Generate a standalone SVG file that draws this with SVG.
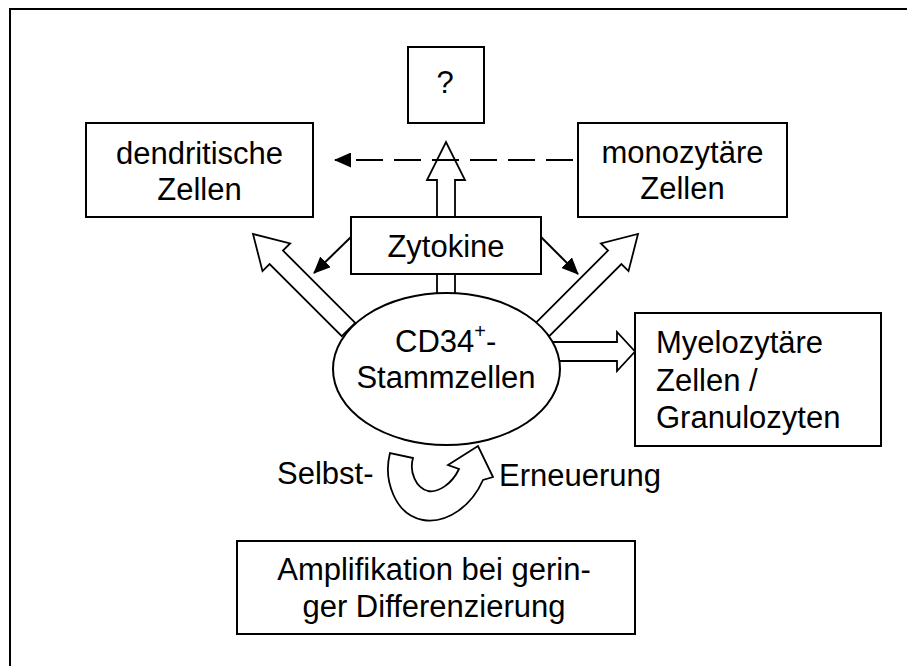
<svg xmlns="http://www.w3.org/2000/svg" width="907" height="666" viewBox="0 0 907 666">
<style>
.box{fill:#fff;stroke:#000;stroke-width:2}
.blk{fill:#fff;stroke:#000;stroke-width:1.8;stroke-linejoin:miter}
.thin{fill:none;stroke:#000;stroke-width:2}
text{font-family:"Liberation Sans",Arial,sans-serif;font-size:31px;fill:#000}
.c{text-anchor:middle}
</style>
<defs>
<marker id="head" markerUnits="userSpaceOnUse" markerWidth="17" markerHeight="15" viewBox="0 0 17 15" refX="16" refY="7.5" orient="auto">
<path d="M0,0 L17,7.5 L0,15 z" fill="#000"/>
</marker>
</defs>
<rect x="10" y="9" width="1000" height="1000" fill="#fff" stroke="#000" stroke-width="2"/>

<g id="connectors">
<polygon class="blk" points="437,300 437,180 427,180 446,142 465,180 455,180 455,300"/>
<polygon class="blk" points="355.2,322.8 283,250.6 290.1,243.5 253,234 262.5,271.1 269.6,264 341.8,336.2"/>
<polygon class="blk" points="535.8,322.8 608,250.6 600.9,243.5 638,234 628.5,271.1 621.4,264 549.2,336.2"/>
<polygon class="blk" points="550,342 617,342 617,332 635,351.5 617,371 617,361 550,361"/>
<path class="blk" d="M390,453 C383,480 395,515 423,520 C448,524 472,505 483,480 L493,477 L478,446 L448,465 L459,469 C452,484 438,493 428,491 C416,488 409,472 413,458 Z"/>
<path class="thin" d="M573,160 L335,160" stroke-dasharray="27 11" marker-end="url(#head)"/>
</g>

<g id="node-stem">
<ellipse cx="446.5" cy="369" rx="113.5" ry="76" class="box"/>
<text x="395" y="352">CD34<tspan font-size="20" dy="-14">+</tspan><tspan dy="14">-</tspan></text>
<text class="c" x="446" y="388">Stammzellen</text>
</g>

<g id="node-zytokine">
<rect class="box" x="351" y="217" width="190" height="57"/>
<text class="c" x="446" y="257">Zytokine</text>
</g>

<g id="connectors-thin">
<path class="thin" d="M351,237 L314,273" marker-end="url(#head)"/>
<path class="thin" d="M541,237 L578,274" marker-end="url(#head)"/>
</g>

<g id="node-unknown">
<rect class="box" x="408" y="47" width="76" height="76"/>
<text class="c" x="445" y="93">?</text>
</g>

<g id="node-dendritic">
<rect class="box" x="86" y="123" width="227" height="94"/>
<text class="c" x="199.5" y="164">dendritische</text>
<text class="c" x="199.5" y="200">Zellen</text>
</g>

<g id="node-mono">
<rect class="box" x="578" y="123" width="209" height="94"/>
<text class="c" x="682.5" y="163">monozytäre</text>
<text class="c" x="682.5" y="199">Zellen</text>
</g>

<g id="node-myelo">
<rect class="box" x="635" y="313" width="246" height="133"/>
<text x="656" y="353">Myelozytäre</text>
<text x="656" y="391">Zellen /</text>
<text x="656" y="428">Granulozyten</text>
</g>

<g id="labels-self">
<text x="277" y="484">Selbst-</text>
<text x="499" y="486">Erneuerung</text>
</g>

<g id="node-amplification">
<rect class="box" x="237" y="541" width="398" height="93"/>
<text class="c" x="434" y="580">Amplifikation bei gerin-</text>
<text class="c" x="434" y="617">ger Differenzierung</text>
</g>
</svg>
